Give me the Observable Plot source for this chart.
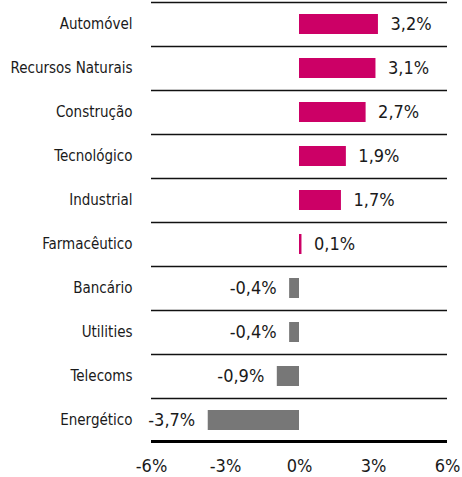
<!DOCTYPE html>
<html><head><meta charset="utf-8">
<script src="https://cdn.jsdelivr.net/npm/d3@7"></script>
<script src="https://cdn.jsdelivr.net/npm/@observablehq/plot@0.6"></script>
<style>body{margin:0;background:#fff}</style>
</head><body><div id="chart"></div>
<script>
const sectors = ["Automóvel","Recursos Naturais","Construção","Tecnológico","Industrial","Farmacêutico","Bancário","Utilities","Telecoms","Energético"];
const changes = [3.2,3.1,2.7,1.9,1.7,0.1,-0.4,-0.4,-0.9,-3.7];
const xTicks = [-6,-3,0,3,6];

const data = sectors.map((s,i)=>({sector:s, value:changes[i]}));
const pos = data.filter(d=>d.value>=0);
const neg = data.filter(d=>d.value<0);
const step = 44.2;
const fmt = v => v.toFixed(1).replace(".", ",") + "%";
const font = "'Liberation Sans Narrow','Arial Narrow','DejaVu Sans Condensed',sans-serif";

const plot = Plot.plot({
  width: 462, height: 477,
  marginLeft: 151, marginRight: 15, marginTop: 1, marginBottom: 35,
  style: {fontFamily: font, color: "#1a1a1a", background: "#fff"},
  x: {domain: [-6, 6]},
  y: {domain: sectors, range: [1, 443], paddingInner: 0.55, paddingOuter: 0.275},
  marks: [
    Plot.barX(pos, {x: "value", y: "sector", fill: "#CC0066"}),
    Plot.barX(neg, {x: "value", y: "sector", fill: "#777777"}),
    Plot.ruleY(sectors, {y: d => d, dy: -step/2, x1: -6, x2: 6, stroke: "#111", strokeWidth: 1.5}),
    Plot.ruleY([sectors[sectors.length-1]], {y: d => d, dy: step/2 - 1, x1: -6, x2: 6, stroke: "#000", strokeWidth: 3}),
    Plot.text(pos, {x: "value", y: "sector", text: d => fmt(d.value), textAnchor: "start", dx: 12, fontSize: 18, fill: "#1a1a1a"}),
    Plot.text(neg, {x: "value", y: "sector", text: d => fmt(d.value), textAnchor: "end", dx: -13, fontSize: 18, fill: "#1a1a1a"}),
    Plot.axisY({tickSize: 0, tickPadding: 19, fontSize: 15, label: null}),
    Plot.axisX({ticks: xTicks, tickFormat: d => d + "%", tickSize: 0, tickPadding: 17, fontSize: 18, label: null})
  ]
});
document.getElementById("chart").appendChild(plot);
</script>
</body></html>
